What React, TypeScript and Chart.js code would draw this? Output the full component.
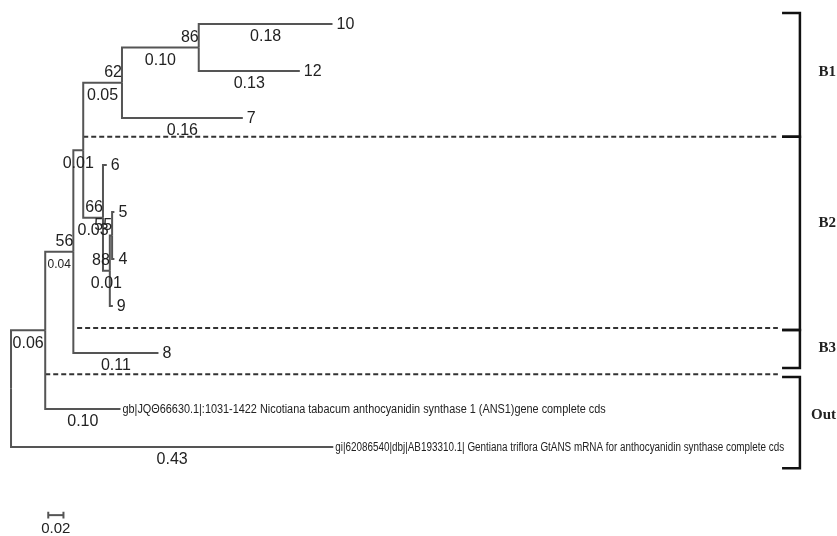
import React, { useEffect, useRef } from 'react';
import { Chart, registerables } from 'chart.js';

Chart.register(...registerables);

// ---- tree data (branch lengths) ----
const nodeIds = ['root', 'A', 'B', 'C', 'D', 'F', 'E', 'G', 'H', '10', '12', '7', '6', '5', '4', '9', '8', 'gb', 'gi'];
const parentIds = [null, 'root', 'A', 'B', 'C', 'D', 'C', 'E', 'G', 'F', 'F', 'D', 'E', 'H', 'H', 'G', 'B', 'A', 'root'];
const branchLengths = [0, 0.045, 0.037, 0.013, 0.051, 0.101, 0.026, 0.009, 0.003, 0.176, 0.133, 0.159, 0.005, 0.003, 0.003, 0.004, 0.112, 0.099, 0.424];

const leafIds = ['10', '12', '7', '6', '5', '4', '9', '8', 'gb', 'gi'];
const leafRows = [0, 1, 2, 3, 4, 5, 6, 7, 8.19, 9];
const leafLabels = [
  '10', '12', '7', '6', '5', '4', '9', '8',
  'gb|JQΘ66630.1|:1031-1422 Nicotiana tabacum anthocyanidin synthase 1 (ANS1)gene complete cds',
  'gi|62086540|dbj|AB193310.1| Gentiana triflora GtANS mRNA for anthocyanidin synthase complete cds',
];

const branchLabelNodes = ['A', 'B', 'C', 'D', 'F', 'E', 'G', '10', '12', '7', '8', 'gb', 'gi'];
const branchLabelTexts = ['0.06', '0.04', '0.01', '0.05', '0.10', '0.03', '0.01', '0.18', '0.13', '0.16', '0.11', '0.10', '0.43'];

const supportNodes = ['B', 'D', 'F', 'E', 'G', 'H'];
const supportValues = ['56', '62', '86', '66', '88', '55'];

// clade separators (dashed) and brackets
const separatorRows = [2.4, 6.47, 7.45];
const separatorStartX = [0.095, 0.087, 0.045];
const separatorEndX = 1.009;

const groupNames = ['B1', 'B2', 'B3', 'Out'];
const groupStartRows = [-0.234, 2.4, 6.51, 7.51];
const groupEndRows = [2.4, 6.51, 7.32, 9.45];
const groupLabelRows = [1.02, 4.23, 6.89, 8.32];
const bracketX = 1.038;
const bracketTickX = 1.0145;
const groupLabelX = 1.0855;

// scale bar
const scaleBarStart = 0.049;
const scaleBarLength = 0.02;
const scaleBarRow = 10.45;
const scaleBarLabel = '0.02';

// ---- axis ranges ----
const X_MIN = -0.0145;
const X_MAX = 1.0868;
const Y_MIN = -0.5106;
const Y_MAX = 10.894;

const LINE_COLOR = '#555555';
const TEXT_COLOR = '#222222';
const NUM_FONT = '16px "Liberation Sans", Arial, sans-serif';
const NARROW: Record<string, number> = { gb: 0.87, gi: 0.79 };

function layoutTree() {
  const x: Record<string, number> = {};
  const y: Record<string, number> = {};
  const children: Record<string, string[]> = {};
  nodeIds.forEach((id) => (children[id] = []));
  nodeIds.forEach((id, i) => {
    const p = parentIds[i];
    if (p) children[p].push(id);
  });
  const lenOf = (id: string) => branchLengths[nodeIds.indexOf(id)];
  const setX = (id: string, base: number) => {
    x[id] = base + lenOf(id);
    children[id].forEach((c) => setX(c, x[id]));
  };
  setX('root', 0);
  const setY = (id: string): number => {
    const li = leafIds.indexOf(id);
    if (li >= 0) {
      y[id] = leafRows[li];
      return y[id];
    }
    const ys = children[id].map(setY);
    y[id] = (Math.min(...ys) + Math.max(...ys)) / 2;
    return y[id];
  };
  setY('root');
  return { x, y };
}

export default function App() {
  const ref = useRef<HTMLCanvasElement | null>(null);

  useEffect(() => {
    document.body.style.margin = '0';
    const canvas = ref.current;
    if (!canvas) return;
    const { x, y } = layoutTree();

    const datasets: any[] = [];
    const seg = (pts: { x: number; y: number }[], color: string, width: number, dash: number[] = []) => {
      datasets.push({
        data: pts,
        showLine: true,
        borderColor: color,
        borderWidth: width,
        borderDash: dash,
        pointRadius: 0,
        fill: false,
        tension: 0,
        borderCapStyle: 'butt',
        borderJoinStyle: 'miter',
      });
    };

    // tree branches: elbow from parent to child
    nodeIds.forEach((id, i) => {
      const p = parentIds[i];
      if (!p) return;
      seg(
        [
          { x: x[p], y: y[p] },
          { x: x[p], y: y[id] },
          { x: x[id], y: y[id] },
        ],
        LINE_COLOR,
        2
      );
    });

    // dashed separators
    separatorRows.forEach((r, i) => {
      seg([{ x: separatorStartX[i], y: r }, { x: separatorEndX, y: r }], '#333333', 2, [5, 3]);
    });

    // brackets
    groupNames.forEach((_, i) => {
      seg(
        [
          { x: bracketTickX, y: groupStartRows[i] },
          { x: bracketX, y: groupStartRows[i] },
          { x: bracketX, y: groupEndRows[i] },
          { x: bracketTickX, y: groupEndRows[i] },
        ],
        '#111111',
        2.5
      );
    });

    // scale bar
    const tick = 0.07;
    seg([{ x: scaleBarStart, y: scaleBarRow }, { x: scaleBarStart + scaleBarLength, y: scaleBarRow }], LINE_COLOR, 2);
    seg([{ x: scaleBarStart, y: scaleBarRow - tick }, { x: scaleBarStart, y: scaleBarRow + tick }], LINE_COLOR, 2);
    seg(
      [{ x: scaleBarStart + scaleBarLength, y: scaleBarRow - tick }, { x: scaleBarStart + scaleBarLength, y: scaleBarRow + tick }],
      LINE_COLOR,
      2
    );

    const textPlugin = {
      id: 'treeText',
      afterDatasetsDraw(chart: any) {
        const ctx = chart.ctx as CanvasRenderingContext2D;
        const xs = chart.scales.x;
        const ys = chart.scales.y;
        const px = (v: number) => xs.getPixelForValue(v);
        const py = (v: number) => ys.getPixelForValue(v);
        ctx.save();
        ctx.fillStyle = TEXT_COLOR;

        // leaf labels
        leafIds.forEach((id, i) => {
          const squeeze = NARROW[id];
          ctx.textAlign = 'left';
          ctx.textBaseline = 'middle';
          if (squeeze) {
            ctx.save();
            ctx.font = '12.5px "Liberation Sans", Arial, sans-serif';
            ctx.translate(px(x[id]) + 2, py(y[id]) + 1);
            ctx.scale(squeeze, 1);
            ctx.fillText(leafLabels[i], 0, 0);
            ctx.restore();
          } else {
            ctx.font = NUM_FONT;
            ctx.fillText(leafLabels[i], px(x[id]) + 4, py(y[id]) + 1);
          }
        });

        // branch length labels
        ctx.textAlign = 'center';
        ctx.textBaseline = 'middle';
        branchLabelNodes.forEach((id, i) => {
          const p = parentIds[nodeIds.indexOf(id)] as string;
          ctx.font = id === 'B' ? '12px "Liberation Sans", Arial, sans-serif' : NUM_FONT;
          const cx = (px(x[p]) + px(x[id])) / 2;
          ctx.fillText(branchLabelTexts[i], cx, py(y[id]) + 13);
        });

        // support values
        ctx.textAlign = 'right';
        ctx.textBaseline = 'middle';
        ctx.font = NUM_FONT;
        supportNodes.forEach((id, i) => {
          ctx.fillText(supportValues[i], px(x[id]), py(y[id]) - 10);
        });

        // group labels
        ctx.textAlign = 'right';
        ctx.font = 'bold 15px "Liberation Serif", "Times New Roman", serif';
        groupNames.forEach((g, i) => {
          ctx.fillText(g, px(groupLabelX), py(groupLabelRows[i]));
        });

        // scale bar label
        ctx.font = '15px "Liberation Sans", Arial, sans-serif';
        ctx.textAlign = 'center';
        ctx.fillText(scaleBarLabel, px(scaleBarStart + scaleBarLength / 2), py(scaleBarRow) + 14);
        ctx.restore();
      },
    };

    const chart = new Chart(canvas, {
      type: 'scatter',
      data: { datasets },
      options: {
        responsive: false,
        animation: false,
        layout: { padding: 0 },
        plugins: { legend: { display: false }, tooltip: { enabled: false } },
        scales: {
          x: { type: 'linear', display: false, min: X_MIN, max: X_MAX },
          y: { type: 'linear', display: false, min: Y_MIN, max: Y_MAX, reverse: true },
        },
      },
      plugins: [textPlugin],
    });
    return () => chart.destroy();
  }, []);

  return (
    <div style={{ width: 837, height: 536, background: '#ffffff' }}>
      <canvas ref={ref} width={837} height={536} style={{ display: 'block' }} />
    </div>
  );
}
